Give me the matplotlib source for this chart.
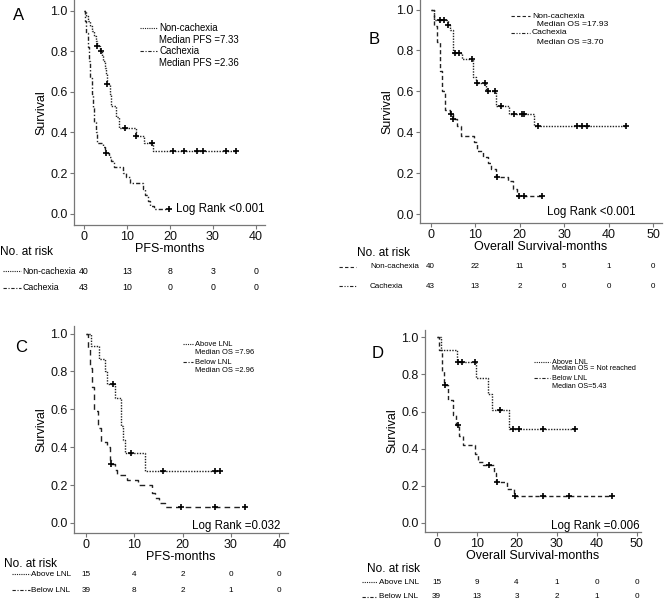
import numpy as np
import matplotlib
matplotlib.use("Agg")
import matplotlib.pyplot as plt
from matplotlib.lines import Line2D
from matplotlib.transforms import blended_transform_factory

plt.rcParams["font.family"] = ["Liberation Sans", "DejaVu Sans"]

W, H = 668, 602

# ---- Panel A: PFS by cachexia ----
a_non_t = [0, 0.5, 1.0, 1.5, 2.0, 2.4, 2.7, 3.0, 3.7, 4.2, 4.5, 4.8, 5.1, 5.3, 6.0, 6.3, 7.4, 8.1, 12.2, 14.0, 16.1]
a_non_s = [1.0, 0.975, 0.95, 0.925, 0.90, 0.875, 0.85, 0.825, 0.80, 0.775, 0.75, 0.72, 0.69, 0.64, 0.59, 0.53, 0.478, 0.42, 0.384, 0.35, 0.31]
a_non_c = [3.0, 3.9, 5.4, 9.5, 12.2, 15.8, 20.7, 23.2, 26.2, 27.7, 33.0, 35.3]
a_cax_t = [0, 0.3, 0.6, 0.9, 1.2, 1.5, 1.8, 2.1, 2.4, 2.7, 3.0, 4.5, 5.0, 5.8, 6.3, 7.0, 9.1, 9.8, 10.7, 13.8, 14.3, 14.9, 15.4, 16.2]
a_cax_s = [1.0, 0.95, 0.89, 0.82, 0.75, 0.67, 0.59, 0.52, 0.45, 0.40, 0.35, 0.33, 0.30, 0.28, 0.26, 0.23, 0.20, 0.18, 0.15, 0.12, 0.09, 0.06, 0.04, 0.025]
a_cax_c = [5.2, 19.8]
a_ticks = [0, 10, 20, 30, 40]
a_risk_non = [40, 13, 8, 3, 0]
a_risk_cax = [43, 10, 0, 0, 0]

# ---- Panel B: OS by cachexia ----
b_non_t = [0, 0.75, 3.9, 4.4, 5.1, 7.1, 9.5, 10.2, 12.4, 14.7, 17.7, 23.2]
b_non_s = [1.0, 0.95, 0.925, 0.90, 0.79, 0.76, 0.67, 0.64, 0.60, 0.53, 0.49, 0.43]
b_non_c = [2.1, 3.0, 3.9, 5.4, 6.4, 9.4, 10.5, 12.3, 12.8, 14.5, 15.8, 18.8, 20.5, 20.9, 24.2, 32.9, 34.1, 35.1, 43.8]
b_cax_t = [0, 0.75, 1.5, 2.1, 2.6, 3.2, 4.3, 5.0, 6.0, 6.8, 9.8, 10.5, 11.7, 12.8, 13.5, 14.7, 17.3, 18.4, 19.4]
b_cax_s = [1.0, 0.92, 0.84, 0.70, 0.60, 0.51, 0.49, 0.466, 0.43, 0.384, 0.35, 0.31, 0.28, 0.25, 0.22, 0.18, 0.16, 0.12, 0.09]
b_cax_c = [4.5, 5.1, 14.9, 19.8, 20.9, 25.0]
b_ticks = [0, 10, 20, 30, 40, 50]
b_risk_non = [40, 22, 11, 5, 1, 0]
b_risk_cax = [43, 13, 2, 0, 0, 0]

# ---- Panel C: PFS by LNL ----
c_abv_t = [0, 1.0, 2.7, 3.9, 4.4, 6.0, 7.2, 7.7, 8.1, 12.1]
c_abv_s = [1.0, 0.933, 0.867, 0.80, 0.733, 0.66, 0.51, 0.44, 0.367, 0.275]
c_abv_c = [5.5, 9.4, 15.9, 26.6, 27.7]
c_blw_t = [0, 0.3, 0.8, 1.2, 1.7, 2.4, 3.0, 4.4, 4.9, 5.1, 6.0, 6.5, 8.4, 10.8, 13.6, 14.3, 15.0, 16.3]
c_blw_s = [1.0, 0.92, 0.82, 0.72, 0.59, 0.50, 0.43, 0.40, 0.335, 0.31, 0.28, 0.252, 0.226, 0.20, 0.16, 0.13, 0.105, 0.082]
c_blw_c = [5.2, 19.7, 26.6, 32.9]
c_ticks = [0, 10, 20, 30, 40]
c_risk_abv = [15, 4, 2, 0, 0]
c_risk_blw = [39, 8, 2, 1, 0]

# ---- Panel D: OS by LNL ----
d_abv_t = [0, 1.1, 5.1, 9.8, 12.8, 13.8, 18.2]
d_abv_s = [1.0, 0.933, 0.867, 0.78, 0.693, 0.608, 0.507]
d_abv_c = [5.4, 6.3, 9.7, 15.8, 19.2, 20.5, 26.5, 34.7]
d_blw_t = [0, 0.7, 1.25, 1.9, 2.9, 4.0, 4.8, 5.5, 6.5, 9.5, 10.4, 11.5, 14.25, 14.8, 17.6, 19.4]
d_blw_s = [1.0, 0.93, 0.82, 0.742, 0.66, 0.58, 0.53, 0.47, 0.42, 0.37, 0.33, 0.31, 0.27, 0.218, 0.18, 0.144]
d_blw_c = [2.2, 5.25, 13.0, 15.1, 19.6, 26.5, 33.0, 43.8]
d_ticks = [0, 10, 20, 30, 40, 50]
d_risk_abv = [15, 9, 4, 1, 0, 0]
d_risk_blw = [39, 13, 3, 2, 1, 0]

DOT = (0, (1, 1))
DASHDOT = (0, (3, 1.5, 1, 1.5))
DASHDOTDOT = (0, (3, 1.5, 1, 1.5, 1, 1.5))
DASH = (0, (3, 2))
LONGDASH = (0, (4, 3))
INK = "#222222"
GREY = "#777777"

fig = plt.figure(figsize=(W / 100, H / 100), dpi=100)


def fx(px):
    return px / W


def fy(py):
    return 1 - py / H


def make_axes(left, top, right, bottom, xlim, ylim, ticks):
    ax = fig.add_axes([fx(left), fy(bottom), fx(right - left), (bottom - top) / H])
    ax.set_xlim(*xlim)
    ax.set_ylim(*ylim)
    ax.set_xticks(ticks)
    ax.set_yticks([0, 0.2, 0.4, 0.6, 0.8, 1.0])
    ax.set_yticklabels(["0.0", "0.2", "0.4", "0.6", "0.8", "1.0"])
    for side in ("top", "right"):
        ax.spines[side].set_visible(False)
    for side in ("left", "bottom"):
        ax.spines[side].set_color(GREY)
        ax.spines[side].set_linewidth(0.9)
    ax.tick_params(direction="out", length=3, width=0.8, color=GREY,
                   labelsize=9, pad=1.5, labelcolor="#111111")
    ax.set_ylabel("Survival", fontsize=9, labelpad=2)
    return ax


def km(ax, t, s, cens, ls):
    end = max(max(t), max(cens))
    ax.step(list(t) + [end], list(s) + [s[-1]], where="post",
            color=INK, lw=1.0, ls=ls)
    idx = np.searchsorted(t, cens, side="right") - 1
    ax.plot(cens, np.asarray(s)[idx], "+", color="black", ms=5, mew=1.2)


def legend(x0, rows, styles, size, gap):
    # rows: (y in px, text, draw a line sample?)
    for (py, txt, has_line), st in zip(rows, styles):
        if has_line:
            fig.add_artist(Line2D([fx(x0), fx(x0 + gap)], [fy(py), fy(py)],
                                  color=INK, lw=0.8, ls=st))
        fig.text(fx(x0 + gap + 2), fy(py), txt, fontsize=size, va="center", ha="left")


def risk_table(ax, head_xy, rows, ticks, size):
    hx, hy = head_xy
    fig.text(fx(hx), fy(hy), "No. at risk", fontsize=8.5, va="center", ha="left")
    tr = blended_transform_factory(ax.transData, fig.transFigure)
    for (x0, x1, lx, py, label, ls, vals) in rows:
        fig.add_artist(Line2D([fx(x0), fx(x1)], [fy(py), fy(py)], color=INK, lw=0.8, ls=ls))
        fig.text(fx(lx), fy(py), label, fontsize=size, va="center", ha="left")
        for tk, v in zip(ticks, vals):
            ax.text(tk, fy(py), str(v), transform=tr, fontsize=size, va="center", ha="center")


# Panel A
axA = make_axes(74, 0, 265, 225, (-2.3, 42.1), (-0.056, 1.053), a_ticks)
km(axA, a_non_t, a_non_s, a_non_c, DOT)
km(axA, a_cax_t, a_cax_s, a_cax_c, DASHDOT)
axA.set_xlabel("PFS-months", fontsize=9, labelpad=0)
fig.text(fx(176), fy(209), "Log Rank <0.001", fontsize=8.3, va="center")
fig.text(fx(13), fy(15), "A", fontsize=12, va="center")
legend(140, [(28, "Non-cachexia", True), (40, "Median PFS =7.33", False),
             (51, "Cachexia", True), (63, "Median PFS =2.36", False)],
       [DOT, None, DASHDOT, None], 6.9, 17)
risk_table(axA, (0, 252),
           [(3, 21, 22, 271, "Non-cachexia", DOT, a_risk_non),
            (3, 21, 22, 288, "Cachexia", DASHDOT, a_risk_cax)], a_ticks, 6.3)

# Panel B
axB = make_axes(420, 0, 662, 223, (-2.4, 52.0), (-0.044, 1.047), b_ticks)
km(axB, b_non_t, b_non_s, b_non_c, DOT)
km(axB, b_cax_t, b_cax_s, b_cax_c, DASH)
axB.set_xlabel("Overall Survival-months", fontsize=9, labelpad=0)
fig.text(fx(547), fy(212), "Log Rank <0.001", fontsize=8.3, va="center")
fig.text(fx(369), fy(40), "B", fontsize=12, va="center")
legend(511, [(16, "Non-cachexia", True), (25, "  Median OS =17.93", False),
             (33, "Cachexia", True), (43, "  Median OS =3.70", False)],
       [DASH, None, DASHDOTDOT, None], 6.1, 19)
risk_table(axB, (357, 253),
           [(339, 356, 370, 267, "Non-cachexia", DASH, b_risk_non),
            (339, 356, 370, 286, "Cachexia", DASHDOTDOT, b_risk_cax)],
           b_ticks, 5.8)

# Panel C
axC = make_axes(74, 326, 288, 533, (-2.5, 41.8), (-0.053, 1.04), c_ticks)
km(axC, c_abv_t, c_abv_s, c_abv_c, DOT)
km(axC, c_blw_t, c_blw_s, c_blw_c, LONGDASH)
axC.set_xlabel("PFS-months", fontsize=9, labelpad=0)
fig.text(fx(192), fy(526), "Log Rank =0.032", fontsize=8.3, va="center")
fig.text(fx(15), fy(348), "C", fontsize=12, va="center")
legend(183, [(344, "Above LNL", True), (353, "Median OS =7.96", False),
             (362, "Below LNL", True), (370, "Median OS =2.96", False)],
       [DOT, None, DASHDOT, None], 5.4, 10)
risk_table(axC, (4, 564),
           [(12, 30, 31, 574, "Above LNL", DOT, c_risk_abv),
            (12, 30, 31, 590, "Below LNL", DASHDOT, c_risk_blw)], c_ticks, 5.9)

# Panel D
axD = make_axes(425, 330, 641, 532, (-2.9, 51.1), (-0.05, 1.04), d_ticks)
km(axD, d_abv_t, d_abv_s, d_abv_c, DOT)
km(axD, d_blw_t, d_blw_s, d_blw_c, DASH)
axD.set_xlabel("Overall Survival-months", fontsize=9, labelpad=0)
fig.text(fx(551), fy(526), "Log Rank =0.006", fontsize=8.3, va="center")
fig.text(fx(372), fy(353), "D", fontsize=12, va="center")
legend(534, [(362, "Above LNL", True), (369, "Median OS = Not reached", False),
             (378, "Below LNL", True), (386, "Median OS=5.43", False)],
       [DOT, None, DASHDOT, None], 5.2, 16)
risk_table(axD, (367, 569),
           [(362, 377, 379, 582, "Above LNL", DOT, d_risk_abv),
            (362, 377, 379, 597, "Below LNL", DASHDOT, d_risk_blw)], d_ticks, 5.9)

fig.savefig("out.png", dpi=100)
